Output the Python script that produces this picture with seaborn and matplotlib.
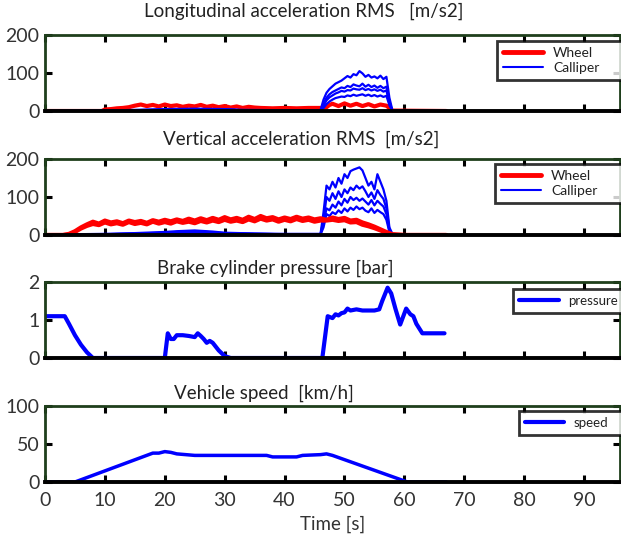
import matplotlib
matplotlib.use("Agg")
import matplotlib.pyplot as plt
import seaborn as sns
from matplotlib.lines import Line2D

# ---------------- data ----------------
t_lon_w = [0, 9.5, 10, 11, 12, 13, 14, 15, 16, 17, 18, 19, 20, 21, 22, 23, 24, 25, 26, 27, 28, 29, 30,
           31, 32, 33, 34, 35, 36, 38, 40, 42, 44, 46, 47, 47.5, 48, 49, 50, 51, 52, 53, 54, 55, 56, 57,
           57.5, 58, 67]
lon_wheel = [0, 0, 4, 5, 7, 8, 10, 14, 17, 13, 16, 12, 17, 13, 15, 11, 14, 12, 16, 11, 14, 10, 13, 9,
             12, 8, 11, 9, 8, 7, 8, 7, 8, 8, 10, 16, 19, 13, 20, 14, 19, 13, 18, 12, 17, 14, 8, 1, 0]

t_lon_c = [0, 10, 15, 20, 25, 30, 33, 40, 46,
           46.5, 47, 47.5, 48, 48.5, 49, 49.5, 50, 50.5, 51, 51.5, 52, 52.5, 53, 53.5, 54, 54.5, 55,
           55.5, 56, 56.5, 57, 57.5,
           58, 60, 67]
lon_cal_a = [0, 1, 3, 5, 6, 5, 3, 2, 2,
             30, 48, 58, 65, 72, 76, 80, 86, 92, 88, 97, 94, 105, 99, 90, 95, 88, 91, 86, 93, 84, 90, 35,
             2, 0, 0]
lon_cal_b = [0, 1, 2, 4, 5, 4, 2, 1, 1,
             20, 35, 44, 50, 54, 58, 62, 60, 66, 63, 70, 67, 65, 72, 64, 69, 63, 67, 61, 66, 60, 64, 25,
             1, 0, 0]
lon_cal_c = [0, 0, 1, 3, 4, 3, 2, 1, 1,
             14, 28, 36, 41, 46, 49, 53, 51, 55, 54, 59, 57, 56, 60, 55, 58, 54, 57, 53, 56, 51, 54, 20,
             1, 0, 0]
lon_cal_d = [0, 0, 1, 2, 3, 2, 1, 1, 1,
             8, 18, 25, 30, 34, 36, 38, 37, 41, 39, 43, 40, 42, 44, 40, 43, 39, 42, 38, 41, 37, 40, 15,
             1, 0, 0]

t_ver_w = [0, 3, 4, 5, 6, 7, 8, 9, 10, 11, 12, 13, 14, 15, 16, 17, 18, 19, 20, 21, 22, 23, 24, 25, 26,
           27, 28, 29, 30, 31, 32, 33, 34, 35, 36, 37, 38, 39, 40, 41, 42, 43, 44, 45, 46, 47, 48, 49,
           50, 51, 52, 53, 54, 55, 56, 57, 58, 60, 67]
ver_wheel_a = [0, 0, 3, 10, 20, 28, 35, 30, 38, 33, 36, 31, 38, 34, 37, 32, 39, 35, 40, 36, 41, 37, 43,
               38, 44, 39, 45, 40, 47, 41, 45, 40, 48, 42, 50, 44, 47, 41, 46, 42, 48, 43, 46, 41, 44,
               40, 46, 42, 45, 38, 40, 33, 28, 22, 15, 8, 2, 0, 0]
ver_wheel_b = [0, 0, 1, 8, 17, 24, 29, 26, 33, 28, 31, 27, 34, 29, 32, 28, 35, 30, 34, 30, 36, 32, 35,
               31, 37, 33, 38, 34, 40, 35, 38, 34, 41, 36, 43, 38, 41, 35, 40, 36, 42, 37, 40, 35, 38,
               38, 40, 37, 39, 33, 34, 27, 23, 18, 12, 6, 1, 0, 0]

t_ver_c = [0, 10, 15, 20, 22, 25, 28, 30, 35, 40, 46,
           46.5, 47, 47.5, 48, 48.5, 49, 49.5, 50, 50.5, 51, 51.5, 52, 52.5, 53, 53.5, 54, 54.5, 55,
           55.5, 56, 56.5, 57, 57.5,
           58, 60, 67]
ver_cal_a = [1, 3, 5, 8, 10, 12, 9, 6, 4, 3, 3,
             60, 130, 120, 140, 125, 150, 135, 160, 150, 168, 172, 175, 178, 170, 150, 130, 140, 120,
             160, 140, 120, 90, 20,
             3, 1, 0]
ver_cal_b = [1, 2, 4, 6, 8, 10, 7, 5, 3, 2, 2,
             40, 100, 90, 110, 95, 115, 100, 120, 110, 125, 118, 130, 122, 128, 115, 100, 112, 95,
             118, 105, 95, 70, 15,
             2, 1, 0]
ver_cal_c = [0, 2, 3, 5, 6, 8, 6, 4, 3, 2, 2,
             30, 70, 65, 80, 72, 88, 78, 95, 85, 100, 92, 98, 90, 96, 88, 80, 92, 78,
             90, 82, 75, 55, 10,
             2, 1, 0]
ver_cal_d = [0, 1, 2, 4, 5, 6, 5, 3, 2, 1, 1,
             20, 55, 50, 60, 55, 65, 58, 70, 62, 72, 66, 75, 68, 72, 64, 60, 70, 58,
             66, 60, 55, 40, 8,
             1, 0, 0]

t_press = [0, 3.3, 4, 5, 6, 7, 8,
           20, 20.5, 21, 21.5, 22, 23, 24, 25, 25.5, 26, 26.5, 27, 27.5, 28, 29, 30, 31,
           46.3, 47.2, 48, 48.5, 49, 49.5, 50, 50.5, 51, 52, 53, 54, 55, 55.8, 56.3, 57.2, 57.8,
           58.5, 59.3, 60.3, 61, 61.5, 62, 63, 66.7]
pressure = [1.1, 1.1, 0.9, 0.6, 0.35, 0.15, 0.0,
            0.0, 0.65, 0.5, 0.5, 0.6, 0.6, 0.58, 0.55, 0.65, 0.58, 0.5, 0.4, 0.45, 0.4, 0.2, 0.05, 0.0,
            0.0, 1.1, 1.05, 1.15, 1.12, 1.18, 1.2, 1.3, 1.25, 1.28, 1.25, 1.25, 1.25, 1.28, 1.5, 1.85,
            1.7, 1.3, 0.88, 1.3, 1.15, 1.1, 0.9, 0.65, 0.65]

t_speed = [0, 5, 18, 19, 20, 21, 22, 25, 30, 37, 38, 42, 43, 46, 47, 48, 60.5, 67]
speed = [0, 0, 38, 38, 40, 39, 37, 35, 35, 35, 33, 33, 35, 36, 37, 35, 0, 0]

titles = ["Longitudinal acceleration RMS   [m/s2]", "Vertical acceleration RMS  [m/s2]",
          "Brake cylinder pressure [bar]", "Vehicle speed  [km/h]"]
title_x = [0.45, 0.445, 0.40, 0.38]
title_pad = [13, 10, 6, 5]
yticks = [[0, 100, 200], [0, 100, 200], [0, 1, 2], [0, 50, 100]]
xticks = [0, 10, 20, 30, 40, 50, 60, 70, 80, 90]

# ---------------- style ----------------
sns.set_theme(style="ticks")
plt.rcParams["font.family"] = ["Lato", "DejaVu Sans"]

RED = "#ff0000"
BLUE = "#0000ff"
SPINE = "#1f3f1c"

fig = plt.figure(figsize=(6.21, 5.36), dpi=100)
W = 621.0
H = 536.0
left = 45 / W
width = 575 / W
bottoms = [111, 235, 358, 482]
hgt = 76 / H
axes = [fig.add_axes([left, 1 - b / H, width, hgt]) for b in bottoms]

# panel 1
ax = axes[0]
sns.lineplot(x=t_lon_w, y=lon_wheel, ax=ax, color=RED, lw=3, estimator=None, sort=False)
for c in (lon_cal_d, lon_cal_c, lon_cal_b, lon_cal_a):
    sns.lineplot(x=t_lon_c, y=c, ax=ax, color=BLUE, lw=1.6, estimator=None, sort=False)

# panel 2
ax = axes[1]
for c in (ver_cal_d, ver_cal_c, ver_cal_b, ver_cal_a):
    sns.lineplot(x=t_ver_c, y=c, ax=ax, color=BLUE, lw=1.6, estimator=None, sort=False)
for c in (ver_wheel_b, ver_wheel_a):
    sns.lineplot(x=t_ver_w, y=c, ax=ax, color=RED, lw=3, estimator=None, sort=False)

# panel 3
sns.lineplot(x=t_press, y=pressure, ax=axes[2], color=BLUE, lw=3, estimator=None, sort=False)
# panel 4
sns.lineplot(x=t_speed, y=speed, ax=axes[3], color=BLUE, lw=2.5, estimator=None, sort=False)

for i, ax in enumerate(axes):
    ax.set_xlim(0, 96)
    ax.set_ylim(yticks[i][0], yticks[i][-1])
    ax.set_yticks(yticks[i])
    ax.set_xticks(xticks)
    ax.tick_params(which="major", direction="in", length=5, width=2.2, color="black",
                   top=True, right=True, bottom=True, left=True,
                   labelsize=14, labelcolor="#333333", pad=4)
    ax.tick_params(axis="x", pad=7)
    for s in ax.spines.values():
        s.set_color(SPINE)
        s.set_linewidth(2)
    ax.spines["bottom"].set_color("black")
    ax.spines["bottom"].set_linewidth(2.8)
    ax.set_title(titles[i], fontsize=13.5, color="#222222", x=title_x[i], pad=title_pad[i])
    if i < 3:
        ax.set_xticklabels([])
    ax.set_xlabel("")
    ax.set_ylabel("")

axes[3].set_xlabel("Time [s]", fontsize=13.5, color="#333333", labelpad=5)

def add_legend(ax, handles, labels, box, fs, hl):
    leg = ax.legend(handles, labels, loc="upper left", bbox_to_anchor=box, mode="expand",
                    frameon=True, fancybox=False, fontsize=fs, handlelength=hl,
                    borderaxespad=0, borderpad=0.45, labelspacing=0.2, handletextpad=0.7)
    leg.get_frame().set_edgecolor("black")
    leg.get_frame().set_linewidth(2)
    for t in leg.get_texts():
        t.set_color("#222222")

wc = [Line2D([], [], color=RED, lw=3.5), Line2D([], [], color=BLUE, lw=1.5)]
add_legend(axes[0], wc, ["Wheel", "Calliper"], (0.786, 0.92, 0.25, 0.0), 10, 2.9)
add_legend(axes[1], wc, ["Wheel", "Calliper"], (0.782, 0.94, 0.25, 0.0), 10, 2.9)
add_legend(axes[2], [Line2D([], [], color=BLUE, lw=3)], ["pressure"], (0.814, 0.91, 0.21, 0.0), 9.5, 3.0)
add_legend(axes[3], [Line2D([], [], color=BLUE, lw=3)], ["speed"], (0.824, 0.934, 0.2, 0.0), 9.5, 3.0)

fig.savefig("out.png", dpi=100)
